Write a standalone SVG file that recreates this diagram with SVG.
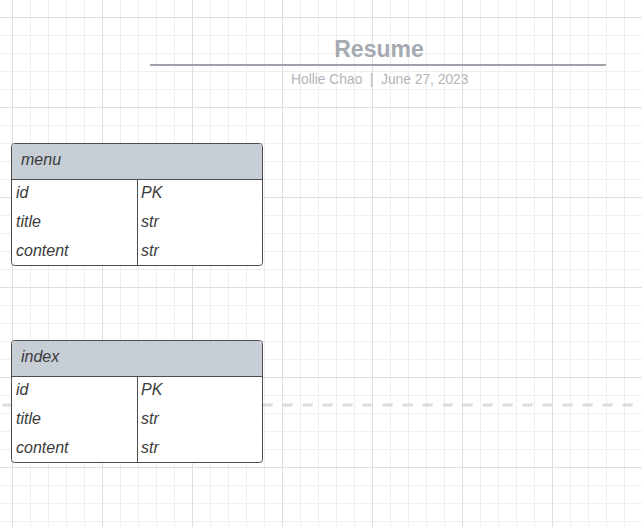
<svg xmlns="http://www.w3.org/2000/svg" width="642" height="527" viewBox="0 0 642 527">
  <defs>
    <pattern id="minor" patternUnits="userSpaceOnUse" x="12" y="17" width="18" height="18">
      <path d="M0.5 0V18M0 0.5H18" stroke="#efefef" stroke-width="1" fill="none"/>
    </pattern>
    <pattern id="major" patternUnits="userSpaceOnUse" x="12" y="17" width="90" height="90">
      <path d="M0.5 0V90M0 0.5H90" stroke="#dedede" stroke-width="1" fill="none"/>
    </pattern>
  </defs>
  <style>
    .tbl { fill: #ffffff; stroke: #4d4d4d; stroke-width: 1; }
    .hdr { fill: #c7ced6; }
    .ln { stroke: #4d4d4d; stroke-width: 1; fill: none; }
    .t { font-family: "Liberation Sans", Arial, sans-serif; font-size: 16px; font-style: italic; fill: #3a3a3a; }
    .title { font-family: "Liberation Sans", Arial, sans-serif; font-size: 23px; font-weight: bold; fill: #a6aab1; }
    .sub { font-family: "Liberation Sans", Arial, sans-serif; font-size: 13.8px; fill: #b2b5bb; }
  </style>
  <rect width="642" height="527" fill="#ffffff"/>
  <rect width="642" height="527" fill="url(#minor)"/>
  <rect width="642" height="527" fill="url(#major)"/>

  <g id="header">
    <text class="title" x="379" y="56.5" text-anchor="middle">Resume</text>
    <line x1="150" y1="65" x2="606" y2="65" stroke="#9ca1aa" stroke-width="2"/>
    <text class="sub" x="291" y="83.5">Hollie Chao</text>
    <text class="sub" x="371.5" y="83.5" text-anchor="middle">|</text>
    <text class="sub" x="381" y="83.5">June 27, 2023</text>
  </g>

  <g id="connectors">
    <line x1="2.7" y1="405" x2="633" y2="405" stroke="#dcdcdc" stroke-width="3" stroke-dasharray="10 10"/>
  </g>

  <g id="menu">
    <rect class="tbl" x="11.5" y="143.5" width="251" height="122" rx="3"/>
    <path class="hdr" d="M14.5 144H259.5A2.5 2.5 0 0 1 262 146.5V179H12V146.5A2.5 2.5 0 0 1 14.5 144Z"/>
    <path class="ln" d="M11.5 179.5H262.5M137.5 179.5V265.5"/>
    <text class="t" x="21" y="165">menu</text>
    <text class="t" x="16" y="198">id</text>
    <text class="t" x="16" y="227">title</text>
    <text class="t" x="16" y="256">content</text>
    <text class="t" x="141" y="198">PK</text>
    <text class="t" x="141" y="227">str</text>
    <text class="t" x="141" y="256">str</text>
  </g>

  <g id="index">
    <rect class="tbl" x="11.5" y="340.5" width="251" height="122" rx="3"/>
    <path class="hdr" d="M14.5 341H259.5A2.5 2.5 0 0 1 262 343.5V376H12V343.5A2.5 2.5 0 0 1 14.5 341Z"/>
    <path class="ln" d="M11.5 376.5H262.5M137.5 376.5V462.5"/>
    <text class="t" x="21" y="362">index</text>
    <text class="t" x="16" y="395">id</text>
    <text class="t" x="16" y="424">title</text>
    <text class="t" x="16" y="453">content</text>
    <text class="t" x="141" y="395">PK</text>
    <text class="t" x="141" y="424">str</text>
    <text class="t" x="141" y="453">str</text>
  </g>
</svg>
